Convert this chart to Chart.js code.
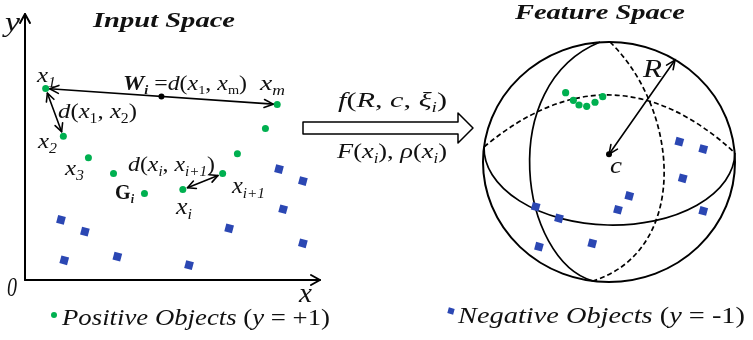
<!DOCTYPE html>
<html>
<head>
<meta charset="utf-8">
<script src="https://cdn.jsdelivr.net/npm/chart.js@4.4.1/dist/chart.umd.min.js"></script>
<style>
  body { margin: 0; background: #fff; }
  #wrap { position: relative; width: 753px; height: 340px; }
  canvas { position: absolute; top: 0; }
  #input { left: 0; }
  #feature { left: 420px; }
</style>
</head>
<body>
<div id="wrap">
  <canvas id="input" width="480" height="340"></canvas>
  <canvas id="feature" width="333" height="340"></canvas>
</div>
<script>
// input space: positive objects (x1, xm, .., x2, .., x3, .., xi+1, Gi, xi)
const posX = [0.7, 8.55, 8.15, 1.3, 7.2, 2.15, 3.0, 6.7, 4.05, 5.35];
const posY = [7.2, 6.6, 5.7, 5.4, 4.75, 4.6, 4.0, 4.0, 3.25, 3.4];
// input space: negative objects
const negX = [8.61, 9.42, 8.75, 1.22, 2.03, 6.92, 9.42, 1.33, 3.13, 5.56];
const negY = [4.17, 3.72, 2.66, 2.26, 1.82, 1.94, 1.38, 0.74, 0.88, 0.56];
// feature space, relative to the sphere centre (radius 1)
const fPosX = [-0.344, -0.283, -0.238, -0.177, -0.111, -0.050];
const fPosY = [0.578, 0.514, 0.475, 0.464, 0.498, 0.544];
const fNegX = [0.558, 0.748, 0.585, 0.161, 0.071, 0.748, -0.582, -0.397, -0.556, -0.133];
const fNegY = [0.169, 0.108, -0.136, -0.283, -0.398, -0.408, -0.373, -0.469, -0.706, -0.678];
const centreC = [0, 0.065];
const radiusTip = [0.524, 0.85];

// which positive points carry names
const X1 = 0, XM = 1, X2 = 3, XI1 = 7, XI = 9;

const GREEN = '#00b050';
const BLUE = '#2b47b3';
const SERIF = '"Liberation Serif", "Times New Roman", serif';

const toPts = (xs, ys) => xs.map((x, i) => ({ x, y: ys[i] }));

function font(size, f) {
  return (f.includes('i') ? 'italic ' : '') + (f.includes('b') ? 'bold ' : '') + size + 'px ' + SERIF;
}

// runs: [text, flags] with i = italic, b = bold, s = subscript
function richText(ctx, runs, x, y, size, width) {
  const parts = runs.map(([t, f = '']) => {
    const sub = f.includes('s');
    const s = sub ? Math.round(size * 0.62) : size;
    ctx.font = font(s, f);
    return { t, f, s, dy: sub ? size * 0.22 : 0, w: ctx.measureText(t).width };
  });
  const total = parts.reduce((n, p) => n + p.w, 0);
  ctx.save();
  ctx.translate(x, y);
  ctx.scale(width ? width / total : 1, 1);
  ctx.textAlign = 'left';
  ctx.textBaseline = 'alphabetic';
  let cx = 0;
  parts.forEach(p => {
    ctx.font = font(p.s, p.f);
    ctx.fillText(p.t, cx, p.dy);
    cx += p.w;
  });
  ctx.restore();
}

function head(ctx, fx, fy, tx, ty, len, half) {
  const d = Math.hypot(tx - fx, ty - fy);
  const ux = (tx - fx) / d, uy = (ty - fy) / d;
  const bx = tx - ux * len, by = ty - uy * len;
  ctx.beginPath();
  ctx.moveTo(bx - uy * half, by + ux * half);
  ctx.lineTo(tx, ty);
  ctx.lineTo(bx + uy * half, by - ux * half);
  ctx.stroke();
}

function arrow(ctx, a, b, both, gap = 0, len = 8, half = 4) {
  const d = Math.hypot(b[0] - a[0], b[1] - a[1]);
  const ux = (b[0] - a[0]) / d, uy = (b[1] - a[1]) / d;
  const x0 = a[0] + ux * gap, y0 = a[1] + uy * gap;
  const x1 = b[0] - ux * gap, y1 = b[1] - uy * gap;
  ctx.beginPath();
  ctx.moveTo(x0, y0);
  ctx.lineTo(x1, y1);
  ctx.stroke();
  head(ctx, x0, y0, x1, y1, len, half);
  if (both) head(ctx, x1, y1, x0, y0, len, half);
}

function square(ctx, x, y, side, deg) {
  ctx.save();
  ctx.translate(x, y);
  ctx.rotate(deg * Math.PI / 180);
  ctx.fillRect(-side / 2, -side / 2, side, side);
  ctx.restore();
}

// ---------- input space (plus the mapping arrow) ----------
const inputText = [
  { runs: [['Input Space', 'bi']], x: 93, y: 27, size: 22, w: 142 },
  { runs: [['y', 'i']], x: 5, y: 31, size: 28, w: 15 },
  { runs: [['0', 'i']], x: 7, y: 296, size: 27, w: 10 },
  { runs: [['x', 'i']], x: 299, y: 302, size: 28, w: 13 },
  { runs: [['x', 'i'], ['1', 'is']], x: 37, y: 82, size: 22, w: 19 },
  { runs: [['W', 'bi'], ['i', 'bis'], [' =', ''], ['d', 'i'], ['(', ''], ['x', 'i'], ['1', 's'],
           [', ', ''], ['x', 'i'], ['m', 's'], [')', '']], x: 123, y: 90, size: 20, w: 124 },
  { runs: [['x', 'i'], ['m', 'is']], x: 260, y: 90, size: 22, w: 25 },
  { runs: [['d', 'i'], ['(', ''], ['x', 'i'], ['1', 's'], [', ', ''], ['x', 'i'], ['2', 's'], [')', '']],
    x: 58, y: 118, size: 22, w: 79 },
  { runs: [['x', 'i'], ['2', 'is']], x: 38, y: 148, size: 22, w: 19 },
  { runs: [['x', 'i'], ['3', 'is']], x: 65, y: 175, size: 22, w: 19 },
  { runs: [['d', 'i'], ['(', ''], ['x', 'i'], ['i', 'is'], [', ', ''], ['x', 'i'], ['i+1', 'is'], [')', '']],
    x: 128, y: 171, size: 22, w: 87 },
  { runs: [['G', 'b'], ['i', 'bis']], x: 115, y: 199, size: 20, w: 19 },
  { runs: [['x', 'i'], ['i', 'is']], x: 176, y: 214, size: 24, w: 16 },
  { runs: [['x', 'i'], ['i+1', 'is']], x: 232, y: 193, size: 24, w: 33 },
  { runs: [['f', 'i'], ['(', ''], ['R', 'i'], [', ', ''], ['c', 'i'], [', ', ''], ['ξ', 'i'], ['i', 'is'], [')', '']],
    x: 338, y: 107, size: 22, w: 109 },
  { runs: [['F', 'i'], ['(', ''], ['x', 'i'], ['i', 'is'], ['), ', ''], ['ρ', 'i'], ['(', ''], ['x', 'i'], ['i', 'is'], [')', '']],
    x: 337, y: 158, size: 22, w: 110 },
  { runs: [['Positive Objects ', 'i'], ['(', ''], ['y', 'i'], [' = +1)', '']], x: 62, y: 325, size: 23, w: 268 }
];
// hollow block arrow between the two spaces
const mapArrow = [[303, 122], [458, 122], [458, 113], [473, 128], [458, 143], [458, 134], [303, 134]];

const midX = (posX[X1] + posX[XM]) / 2;
const midY = (posY[X1] + posY[XM]) / 2;

const inputDecor = {
  id: 'inputDecor',
  beforeDatasetsDraw(chart) {
    const { ctx, chartArea: a, scales: { x, y } } = chart;
    const P = i => [x.getPixelForValue(posX[i]), y.getPixelForValue(posY[i])];
    ctx.save();
    ctx.strokeStyle = '#000';
    ctx.lineCap = 'round';
    ctx.lineJoin = 'round';
    // axes
    const ox = x.getPixelForValue(0), oy = y.getPixelForValue(0);
    ctx.lineWidth = 2;
    arrow(ctx, [ox, oy], [ox, a.top], false, 0, 9, 5);
    arrow(ctx, [ox, oy], [a.right, oy], false, 0, 9, 5);
    // distances between objects
    ctx.lineWidth = 1.6;
    arrow(ctx, P(X1), P(XM), true, 4, 9, 4);
    arrow(ctx, P(X1), P(X2), true, 5, 8, 4);
    arrow(ctx, P(XI), P(XI1), true, 5, 8, 4);
    // mapping arrow
    ctx.lineWidth = 1.5;
    ctx.beginPath();
    mapArrow.forEach(([px, py], i) => (i ? ctx.lineTo(px, py) : ctx.moveTo(px, py)));
    ctx.closePath();
    ctx.fillStyle = '#fff';
    ctx.fill();
    ctx.stroke();
    ctx.restore();
  },
  afterDraw(chart) {
    const { ctx } = chart;
    ctx.save();
    ctx.fillStyle = '#111';
    inputText.forEach(l => richText(ctx, l.runs, l.x, l.y, l.size, l.w));
    ctx.fillStyle = GREEN;
    ctx.beginPath();
    ctx.arc(54, 315, 3, 0, Math.PI * 2);
    ctx.fill();
    ctx.restore();
  }
};

new Chart(document.getElementById('input'), {
  type: 'scatter',
  data: {
    datasets: [
      { data: toPts(posX, posY), pointRadius: 3.5, pointBackgroundColor: GREEN, pointBorderWidth: 0 },
      { data: toPts(negX, negY), pointStyle: 'rect', pointRotation: 15, pointRadius: 5.6,
        pointBackgroundColor: BLUE, pointBorderWidth: 0 },
      { data: [{ x: midX, y: midY }], pointRadius: 3, pointBackgroundColor: '#000', pointBorderWidth: 0 }
    ]
  },
  options: {
    responsive: false,
    animation: false,
    events: [],
    clip: false,
    layout: { padding: { left: 25, right: 160, top: 14, bottom: 60 } },
    scales: {
      x: { type: 'linear', min: 0, max: 10, display: false },
      y: { type: 'linear', min: 0, max: 10, display: false }
    },
    plugins: { legend: { display: false }, tooltip: { enabled: false } }
  },
  plugins: [inputDecor]
});

// ---------- feature space ----------
const sphere = {
  backRim: [[-0.992, 0.125], [0.024, 1.017], [1.0, 0.075]],
  frontRim: { c: [0.004, 0.1], r: [0.996, 0.625], rot: 0.024 },
  leftMeridian: [[-0.071, 1.0], [-0.905, 0.642], [-0.706, -0.817], [-0.127, -0.992]],
  rightMeridian: [[0.008, 1.0], [0.563, 0.433], [0.643, -0.733], [-0.127, -0.992]]
};

const featureText = [
  { runs: [['Feature Space', 'bi']], x: 95, y: 19, size: 22, w: 170 },
  { runs: [['R', 'i']], x: 223, y: 77, size: 26, w: 19 },
  { runs: [['c', 'i']], x: 190, y: 173, size: 24, w: 12 },
  { runs: [['Negative Objects ', 'i'], ['(', ''], ['y', 'i'], [' = -1)', '']], x: 38, y: 323, size: 23, w: 287 }
];

const featureDecor = {
  id: 'featureDecor',
  beforeDatasetsDraw(chart) {
    const { ctx, scales: { x, y } } = chart;
    const P = ([u, v]) => [x.getPixelForValue(u), y.getPixelForValue(v)];
    const kx = x.getPixelForValue(1) - x.getPixelForValue(0);
    const ky = y.getPixelForValue(0) - y.getPixelForValue(1);
    ctx.save();
    ctx.strokeStyle = '#000';
    ctx.lineCap = 'butt';

    // outline
    const o = P([0, 0]);
    ctx.lineWidth = 2;
    ctx.beginPath();
    ctx.ellipse(o[0], o[1], kx, ky, 0, 0, Math.PI * 2);
    ctx.stroke();

    // front half of the horizontal great circle
    ctx.lineWidth = 1.7;
    const fr = sphere.frontRim, fc = P(fr.c);
    ctx.beginPath();
    ctx.ellipse(fc[0], fc[1], fr.r[0] * kx, fr.r[1] * ky, fr.rot, 0, Math.PI);
    ctx.stroke();

    // visible meridian
    const lm = sphere.leftMeridian.map(P);
    ctx.beginPath();
    ctx.moveTo(...lm[0]);
    ctx.bezierCurveTo(...lm[1], ...lm[2], ...lm[3]);
    ctx.stroke();

    // hidden arcs
    ctx.setLineDash([5, 3]);
    const br = sphere.backRim.map(P);
    ctx.beginPath();
    ctx.moveTo(...br[0]);
    ctx.quadraticCurveTo(...br[1], ...br[2]);
    ctx.stroke();
    const rm = sphere.rightMeridian.map(P);
    ctx.beginPath();
    ctx.moveTo(...rm[0]);
    ctx.bezierCurveTo(...rm[1], ...rm[2], ...rm[3]);
    ctx.stroke();
    ctx.setLineDash([]);

    // radius R
    ctx.lineWidth = 1.6;
    ctx.lineCap = 'round';
    const c = P(centreC), t = P(radiusTip);
    arrow(ctx, [c[0], c[1]], [t[0], t[1]], true, 0, 9, 4);
    ctx.restore();
  },
  afterDraw(chart) {
    const { ctx } = chart;
    ctx.save();
    ctx.fillStyle = '#111';
    featureText.forEach(l => richText(ctx, l.runs, l.x, l.y, l.size, l.w));
    ctx.fillStyle = BLUE;
    square(ctx, 31, 311, 6, 15);
    ctx.restore();
  }
};

new Chart(document.getElementById('feature'), {
  type: 'scatter',
  data: {
    datasets: [
      { data: toPts(fPosX, fPosY), pointRadius: 3.6, pointBackgroundColor: GREEN, pointBorderWidth: 0 },
      { data: toPts(fNegX, fNegY), pointStyle: 'rect', pointRotation: 15, pointRadius: 5.6,
        pointBackgroundColor: BLUE, pointBorderWidth: 0 },
      { data: [{ x: centreC[0], y: centreC[1] }], pointRadius: 3, pointBackgroundColor: '#000', pointBorderWidth: 0 }
    ]
  },
  options: {
    responsive: false,
    animation: false,
    events: [],
    clip: false,
    layout: { padding: { left: 63, right: 18, top: 42, bottom: 58 } },
    scales: {
      x: { type: 'linear', min: -1, max: 1, display: false },
      y: { type: 'linear', min: -1, max: 1, display: false }
    },
    plugins: { legend: { display: false }, tooltip: { enabled: false } }
  },
  plugins: [featureDecor]
});
</script>
</body>
</html>
